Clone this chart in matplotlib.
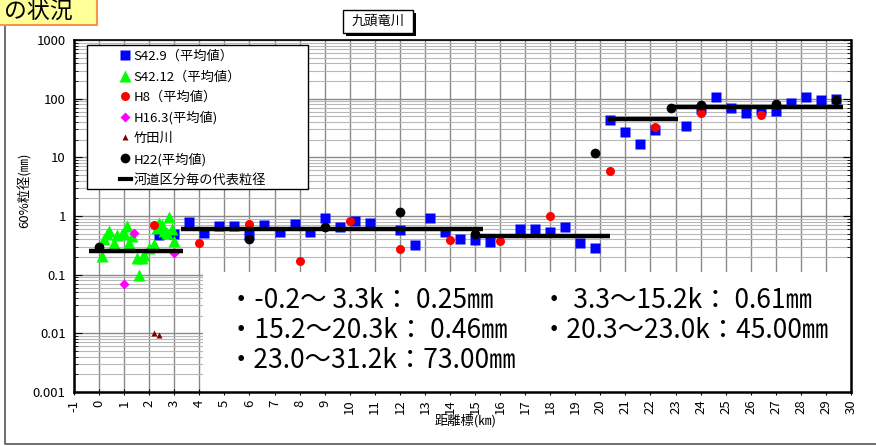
import numpy as np
import matplotlib
matplotlib.use("Agg")
import matplotlib.pyplot as plt
from matplotlib.lines import Line2D
from matplotlib.patches import Rectangle
from matplotlib.ticker import NullFormatter, LogLocator

plt.rcParams['font.family'] = ['Noto Sans CJK JP', 'DejaVu Sans']
plt.rcParams['axes.unicode_minus'] = False

# 距離標(km) と 60%粒径(mm)
s42_9_km = [2.4, 3.0, 3.6, 4.2, 4.8, 5.4, 6.0, 6.6, 7.2, 7.8, 8.4, 9.0, 9.6, 10.2, 10.8,
            12.0, 12.6, 13.2, 13.8, 14.4, 15.0, 15.6, 16.8, 17.4, 18.0, 18.6, 19.2, 19.8,
            20.4, 21.0, 21.6, 22.2, 23.4, 24.0, 24.6, 25.2, 25.8, 26.4, 27.0, 27.6, 28.2,
            28.8, 29.4]
s42_9_d = [0.47, 0.50, 0.79, 0.52, 0.68, 0.67, 0.47, 0.70, 0.53, 0.74, 0.53, 0.91, 0.65,
           0.82, 0.76, 0.58, 0.32, 0.93, 0.53, 0.41, 0.39, 0.36, 0.59, 0.59, 0.54, 0.64,
           0.35, 0.28, 44, 27, 16.8, 29, 34.5, 66, 105, 70, 58, 64, 62, 83, 108, 95, 100]

s42_12_km = [0.1, 0.2, 0.3, 0.4, 0.6, 0.7, 0.9, 1.0, 1.1, 1.2, 1.3, 1.5, 1.6, 1.7, 1.8,
             2.0, 2.2, 2.3, 2.4, 2.5, 2.6, 2.7, 2.8, 2.9, 3.0]
s42_12_d = [0.21, 0.40, 0.50, 0.55, 0.34, 0.48, 0.50, 0.52, 0.68, 0.35, 0.45, 0.19, 0.10,
            0.19, 0.22, 0.28, 0.33, 0.62, 0.75, 0.70, 0.55, 0.52, 0.95, 0.60, 0.38]

h8_km = [2.2, 4.0, 6.0, 8.0, 10.0, 12.0, 14.0, 16.0, 18.0, 20.4, 22.2, 24.0, 26.4]
h8_d = [0.70, 0.35, 0.74, 0.17, 0.82, 0.27, 0.39, 0.37, 1.0, 5.8, 33, 58, 52]

h16_km = [1.0, 1.4, 3.0]
h16_d = [0.068, 0.52, 0.23]

takeda_km = [2.2, 2.4]
takeda_d = [0.0102, 0.0092]

h22_km = [0.0, 6.0, 9.0, 12.0, 15.0, 19.8, 22.8, 24.0, 27.0, 29.4]
h22_d = [0.30, 0.41, 0.65, 1.17, 0.50, 12, 68, 78, 80, 95]

# 河道区分毎の代表粒径
rep_x0 = [-0.4, 3.25, 15.2, 20.3, 22.95]
rep_x1 = [3.35, 15.3, 20.4, 23.1, 29.7]
rep_d = [0.25, 0.61, 0.46, 45.0, 73.0]
rep_ranges = ['-0.2～ 3.3k', ' 3.3～15.2k', '15.2～20.3k', '20.3～23.0k', '23.0～31.2k']

xticks = list(range(-1, 31))
yticks = [0.001, 0.01, 0.1, 1, 10, 100, 1000]
ytick_labels = ['0.001', '0.01', '0.1', '1', '10', '100', '1000']

W, H = 876, 446
fx = lambda px: px / W
fy = lambda py: 1 - py / H

fig = plt.figure(figsize=(W / 100, H / 100), dpi=100)
ax = fig.add_axes([fx(74), fy(392), 777 / W, 352 / H])
ax.set_yscale('log')
ax.set_xlim(-1, 30)
ax.set_ylim(0.001, 1000)
ax.set_axisbelow(True)

ax.set_xticks(xticks)
ax.set_xticklabels([str(t) for t in xticks], rotation=90)
ax.set_yticks(yticks)
ax.set_yticklabels(ytick_labels)
ax.yaxis.set_minor_locator(LogLocator(base=10, subs=np.arange(2, 10)))
ax.yaxis.set_minor_formatter(NullFormatter())
ax.grid(True, which='major', color='#8a8a8a', lw=1.0)
ax.grid(True, which='minor', axis='y', color='#b8b8b8', lw=0.8)
ax.tick_params(axis='y', which='both', direction='in', right=True, labelsize=9.5, pad=6)
ax.tick_params(axis='y', which='major', length=6)
ax.tick_params(axis='y', which='minor', length=3)
ax.tick_params(axis='x', direction='inout', length=5, labelsize=9.5, pad=3)
for sp in ax.spines.values():
    sp.set_color('black')
    sp.set_zorder(10)
ax.spines['left'].set_linewidth(1.8)
ax.spines['bottom'].set_linewidth(1.8)
ax.spines['top'].set_linewidth(1.2)
ax.spines['right'].set_linewidth(1.8)

p1, = ax.plot(s42_9_km, s42_9_d, 's', color='#0000ff', ms=7.5, mec='none', zorder=3)
p2, = ax.plot(s42_12_km, s42_12_d, '^', color='#00ff00', ms=8.5, mec='none', zorder=3.1)
p3, = ax.plot(h8_km, h8_d, 'o', color='#ff0000', ms=6.5, mec='none', zorder=3.2)
p4, = ax.plot(h16_km, h16_d, 'D', color='#ff00ff', ms=5, mec='none', zorder=3.3)
p5, = ax.plot(takeda_km, takeda_d, '^', color='#800000', ms=4, mec='none', zorder=3.4)
ax.hlines(rep_d, rep_x0, rep_x1, colors='black', lw=3.2, zorder=4)
p6, = ax.plot(h22_km, h22_d, 'o', color='black', ms=7, mec='none', zorder=4.5)
p7 = Line2D([], [], color='black', lw=3)

# 代表粒径の一覧
ax.add_patch(Rectangle(((203 - 74) / 777, 0), (851 - 203) / 777, 120 / 352,
                       transform=ax.transAxes, fc='white', ec='none', zorder=6))
lab = [f'・{r}：{d:5.2f}㎜' for r, d in zip(rep_ranges, rep_d)]
pos = [(228, 301), (541, 301), (228, 330), (541, 330), (228, 360)]
for s, (px, py) in zip(lab, pos):
    fig.text(fx(px), fy(py), s, fontsize=19, ha='left', va='center', zorder=7)

# 凡例
fig.add_artist(Rectangle((fx(87), fy(189)), 221 / W, 144 / H, transform=fig.transFigure,
                         fc='white', ec='black', lw=1, zorder=11))
leg = fig.legend([p1, p2, p3, p4, p5, p6, p7],
                 ['S42.9（平均値）', 'S42.12（平均値）', 'H8（平均値）', 'H16.3(平均値)',
                  '竹田川', 'H22(平均値)', '河道区分毎の代表粒径'],
                 loc='upper left', bbox_to_anchor=(fx(120), fy(50)), frameon=False,
                 fontsize=9.5, handlelength=0.8, handletextpad=0.2, labelspacing=0.56,
                 borderpad=0, borderaxespad=0)
leg.set_zorder(12)

# タイトル
fig.add_artist(Rectangle((fx(346), fy(36)), 70 / W, 23 / H, transform=fig.transFigure,
                         fc='black', ec='none', zorder=11))
fig.add_artist(Rectangle((fx(343), fy(33)), 70 / W, 23 / H, transform=fig.transFigure,
                         fc='white', ec='black', lw=1, zorder=12))
fig.text(fx(378), fy(21), '九頭竜川', fontsize=9.5, ha='center', va='center', zorder=13)

fig.add_artist(Rectangle((fx(-5), fy(25)), 102 / W, 32 / H, transform=fig.transFigure,
                         fc='#ffff99', ec='#f79646', lw=1.5, zorder=11))
fig.text(fx(73), fy(11), 'の状況', fontsize=16.5, ha='right', va='center', zorder=12)

# 外枠
fig.add_artist(Line2D([fx(5), fx(5), fx(876)], [fy(25), fy(444), fy(444)],
                      transform=fig.transFigure, color='#555555', lw=1.2))

fig.text(fx(25), fy(190), '60%粒径(㎜)', rotation=90, fontsize=9.5, ha='center', va='center')
fig.text(fx(466), fy(421), '距離標(㎞)', fontsize=9.5, ha='center', va='center')

fig.savefig('out.png', dpi=100)
